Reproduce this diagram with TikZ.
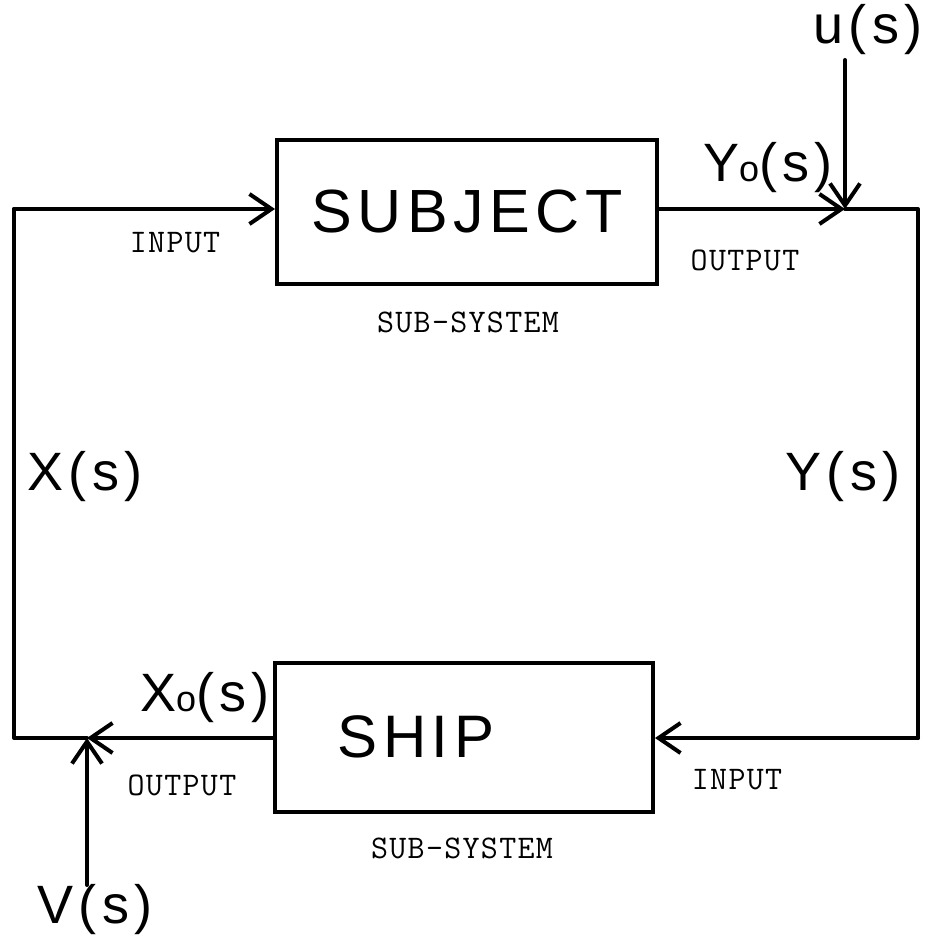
\documentclass[tikz,border=0pt]{standalone}
\usepackage{fontspec}
\setmainfont{Liberation Sans}
\newfontfamily\signalfont[LetterSpace=10]{Liberation Sans}
\newfontfamily\boxfont[LetterSpace=9]{Liberation Sans}
\newfontfamily\notefont[LetterSpace=4]{Latin Modern Mono}
\usetikzlibrary{arrows.meta}
\tikzset{
  wire/.style={line width=4pt, line cap=round, line join=round},
  flow/.style={wire, -{Straight Barb[length=22pt,width=30pt,line width=4pt]}},
  block/.style={draw, line width=4pt, rectangle, inner sep=0pt},
  signal/.style={inner sep=0pt, font=\signalfont\fontsize{54}{54}\selectfont},
  note/.style={inner sep=0pt, font=\notefont\fontsize{33}{33}\selectfont},
}
\newcommand{\sublow}[1]{{\fontsize{36}{36}\selectfont #1}}
\begin{document}
\begin{tikzpicture}[x=1pt,y=-1pt]
  \useasboundingbox (0,0) rectangle (926,944);

  % blocks
  \node[block, minimum width=380pt, minimum height=143pt,
        font=\boxfont\fontsize{61}{61}\selectfont] (subject) at (467,212) {SUBJECT};
  \node[block, minimum width=378pt, minimum height=149pt,
        font=\boxfont\fontsize{60}{60}\selectfont] (ship) at (464,737) {SHIP\kern96pt\null};

  % loop corners and summing junctions
  \coordinate (tl) at (14,209);
  \coordinate (tr) at (918,209);
  \coordinate (br) at (918,738);
  \coordinate (bl) at (14,738);
  \coordinate (ju) at (845,209);
  \coordinate (jv) at (87,738);
  \coordinate (uin) at (845,60);
  \coordinate (vin) at (87,885);

  % signal flow
  \draw[flow] (tl) -- (tl -| subject.west);
  \draw[flow] (subject.east |- tl) -- (ju);
  \draw[flow] (uin) -- (ju);
  \draw[wire] (ju) -- (tr) -- (br);
  \draw[flow] (br) -- (br -| ship.east);
  \draw[flow] (ship.west |- bl) -- (jv);
  \draw[flow] (vin) -- (jv);
  \draw[wire] (jv) -- (bl) -- (tl);

  % signal labels
  \node[signal] (u) at (868,30) {u(s)};
  \node[signal] (yo) at (768,168) {Y\sublow{o}(s)};
  \node[signal] (y) at (843,477) {Y(s)};
  \node[signal] (x) at (85,477) {X(s)};
  \node[signal] (xo) at (205,698) {X\sublow{o}(s)};
  \node[signal] (v) at (95,910) {V(s)};

  % port and block notes
  \node[note] (in1) at (175,243) {INPUT};
  \node[note] (out1) at (745,260) {OUTPUT};
  \node[note] (ss1) at (468,322) {SUB-SYSTEM};
  \node[note] (out2) at (182,785) {OUTPUT};
  \node[note] (in2) at (737,780) {INPUT};
  \node[note] (ss2) at (462,848) {SUB-SYSTEM};
\end{tikzpicture}
\end{document}
